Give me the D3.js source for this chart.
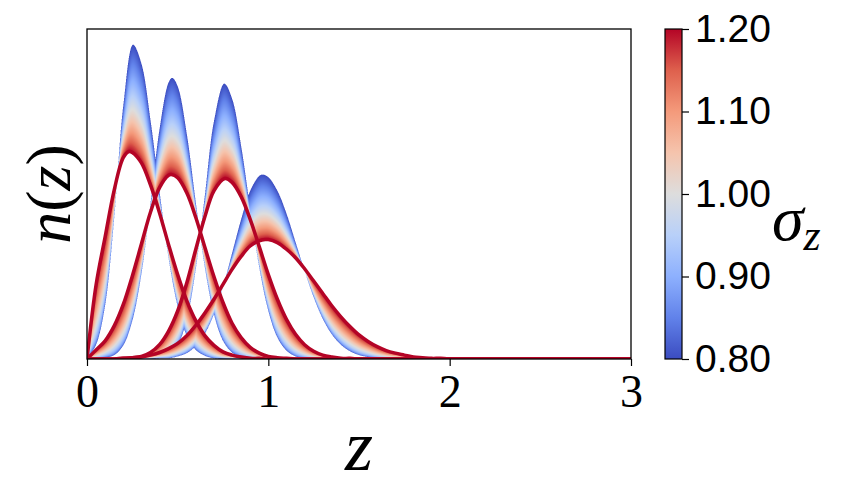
<!DOCTYPE html>
<html>
<head>
<meta charset="utf-8">
<script src="https://cdn.jsdelivr.net/npm/d3@7"></script>
<style>
  body { margin: 0; background: #fff; }
  svg { display: block; }
</style>
</head>
<body>
<div id="chart"></div>
<script>
// Redshift samples shared by every curve.
const zGrid = [
  0.00, 0.05, 0.10, 0.15, 0.20, 0.25, 0.30, 0.35, 0.40, 0.45, 0.50, 0.55, 0.60, 0.65,
  0.70, 0.75, 0.80, 0.85, 0.90, 0.95, 1.00, 1.05, 1.10, 1.15, 1.20, 1.25, 1.30, 1.35,
  1.40, 1.45, 1.50, 1.55, 1.60, 1.65, 1.70, 1.75, 1.80, 1.85, 1.90, 1.95, 2.00,
  3.00
];

// n(z) of the four bins at sigma_z = 0.8.
const nzLow = [
  [0, 0.22, 0.83, 2.17, 3.90, 4.83, 4.55, 3.68, 2.58, 1.55, 0.81, 0.36, 0.14, 0.05,
   0.01, 0, 0, 0, 0, 0, 0, 0, 0, 0, 0, 0, 0, 0,
   0, 0, 0, 0, 0, 0, 0, 0, 0, 0, 0, 0, 0, 0],
  [0, 0, 0.02, 0.06, 0.21, 0.59, 1.31, 2.39, 3.54, 4.26, 4.20, 3.47, 2.41, 1.41,
   0.69, 0.28, 0.10, 0.03, 0.01, 0, 0, 0, 0, 0, 0, 0, 0, 0,
   0, 0, 0, 0, 0, 0, 0, 0, 0, 0, 0, 0, 0, 0],
  [0, 0, 0, 0, 0, 0, 0, 0, 0.01, 0.06, 0.21, 0.61, 1.39, 2.52,
   3.66, 4.23, 4.01, 3.28, 2.32, 1.41, 0.74, 0.33, 0.13, 0.04, 0.01, 0, 0, 0,
   0, 0, 0, 0, 0, 0, 0, 0, 0, 0, 0, 0, 0, 0],
  [0, 0, 0, 0, 0, 0, 0, 0, 0.01, 0.01, 0.04, 0.09, 0.20, 0.39,
   0.69, 1.11, 1.63, 2.15, 2.59, 2.82, 2.80, 2.59, 2.24, 1.80, 1.36, 0.95, 0.62, 0.38,
   0.22, 0.12, 0.06, 0.03, 0.01, 0, 0, 0, 0, 0, 0, 0, 0, 0]
];

// n(z) of the four bins at sigma_z = 1.2 (the dark red curves).
const nzHigh = [
  [0, 1.14, 1.88, 2.60, 3.10, 3.18, 3.02, 2.68, 2.25, 1.76, 1.30, 0.90, 0.59, 0.36,
   0.21, 0.11, 0.06, 0.03, 0.01, 0.01, 0, 0, 0, 0, 0, 0, 0, 0,
   0, 0, 0, 0, 0, 0, 0, 0, 0, 0, 0, 0, 0, 0],
  [0, 0.14, 0.28, 0.51, 0.84, 1.28, 1.77, 2.26, 2.64, 2.83, 2.79, 2.56, 2.18, 1.72,
   1.27, 0.87, 0.55, 0.33, 0.18, 0.09, 0.04, 0.02, 0.01, 0, 0, 0, 0, 0,
   0, 0, 0, 0, 0, 0, 0, 0, 0, 0, 0, 0, 0, 0],
  [0, 0, 0, 0, 0.01, 0.02, 0.04, 0.10, 0.22, 0.43, 0.74, 1.17, 1.69, 2.19,
   2.59, 2.77, 2.72, 2.50, 2.15, 1.73, 1.30, 0.92, 0.61, 0.38, 0.22, 0.12, 0.06, 0.03,
   0.01, 0.01, 0, 0, 0, 0, 0, 0, 0, 0, 0, 0, 0, 0],
  [0, 0, 0, 0, 0.01, 0.02, 0.03, 0.06, 0.10, 0.16, 0.24, 0.36, 0.52, 0.71,
   0.92, 1.15, 1.38, 1.58, 1.74, 1.82, 1.84, 1.79, 1.69, 1.56, 1.39, 1.20, 1.01, 0.82,
   0.65, 0.50, 0.37, 0.27, 0.19, 0.13, 0.09, 0.06, 0.03, 0.02, 0.01, 0.01, 0, 0]
];

// Peak of each curve (position and height).
const peakZLow = [0.254, 0.470, 0.757, 0.969];
const peakNLow = [4.84, 4.33, 4.24, 2.84];
const peakZHigh = [0.232, 0.465, 0.760, 0.982];
const peakNHigh = [3.195, 2.84, 2.78, 1.84];

const sigmaRange = [0.8, 1.2];
const sigmaTicks = [0.8, 0.9, 1.0, 1.1, 1.2];
const zTicks = [0, 1, 2, 3];

// Layout.
const width = 842, height = 502;
const plot = { left: 87, top: 29, right: 631, bottom: 359 };
const pw = plot.right - plot.left, ph = plot.bottom - plot.top;

// Grid samples plus the peak, dropping grid samples that sit right on the peak.
function curvePoints(vals, pz, pn) {
  const pts = zGrid.map((z, i) => [z, vals[i]]).filter(d => Math.abs(d[0] - pz) > 0.012);
  pts.push([pz, pn]);
  return pts.sort((a, b) => a[0] - b[0]);
}
const lowCurves = nzLow.map((c, i) => curvePoints(c, peakZLow[i], peakNLow[i]));
const highCurves = nzHigh.map((c, i) => curvePoints(c, peakZHigh[i], peakNHigh[i]));

const x = d3.scaleLinear().domain([0, 3]).range([plot.left, plot.right]);
const ymax = 1.05 * d3.max(lowCurves.concat(highCurves), c => d3.max(c, d => d[1]));
const y = d3.scaleLinear().domain([0, ymax]).range([plot.bottom, plot.top]);

// matplotlib "coolwarm"
const cwStops = ["#3b4cc0", "#6182ea", "#8db0fe", "#b8d0f9", "#dddddd", "#f5c4ad", "#f49a7b", "#de604d", "#b40426"];
const coolwarm = d3.piecewise(d3.interpolateRgb, cwStops);
const sig = d3.scaleLinear().domain(sigmaRange).range([0, 1]).clamp(true);

const svg = d3.select("#chart").append("svg")
  .attr("width", width).attr("height", height);

const line = d3.line().x(d => x(d[0])).y(d => y(d[1])).curve(d3.curveCatmullRom);

// Sample a drawn curve so it can be looked up by pixel column.
function sampler(pts) {
  const p = svg.append("path").attr("d", line(pts)).attr("fill", "none");
  const node = p.node(), L = node.getTotalLength();
  const xs = [], ys = [];
  for (let l = 0; l <= L; l += 0.5) {
    const q = node.getPointAtLength(l);
    xs.push(q.x); ys.push(Math.min(q.y, plot.bottom));
  }
  p.remove();
  return px => {
    let lo = 0, hi = xs.length - 1;
    if (px <= xs[0]) return ys[0];
    if (px >= xs[hi]) return ys[hi];
    while (hi - lo > 1) {
      const mid = (lo + hi) >> 1;
      if (xs[mid] <= px) lo = mid; else hi = mid;
    }
    const t = (px - xs[lo]) / ((xs[hi] - xs[lo]) || 1);
    return ys[lo] + t * (ys[hi] - ys[lo]);
  };
}

const lowF = lowCurves.map(sampler);
const highF = highCurves.map(sampler);

// Shade each bin's band between its sigma=0.8 and sigma=1.2 curves (3x3 supersampled).
const SS = 3;
const lut = d3.range(256).map(i => d3.rgb(coolwarm(i / 255)));
const acc = new Float32Array(pw * ph * 3);
const yb = new Float32Array(4), yr = new Float32Array(4);
for (let sx = 0; sx < pw * SS; sx++) {
  const px = plot.left + (sx + 0.5) / SS;
  for (let k = 0; k < 4; k++) { yb[k] = lowF[k](px); yr[k] = highF[k](px); }
  const col = Math.floor(sx / SS);
  for (let sy = 0; sy < ph * SS; sy++) {
    const py = plot.top + (sy + 0.5) / SS;
    let best = -1;
    for (let k = 0; k < 4; k++) {
      const a = yb[k], b = yr[k];
      const lo = Math.min(a, b), hi = Math.max(a, b);
      if (py < lo || py > hi) continue;
      const t = hi - lo < 1e-6 ? 1 : (py - a) / (b - a);
      // peak height goes as 1/sigma; on the tails the wider curves rise faster
      const s = a < b ? 0.8 / (1 - t / 3) : 0.8 + 0.4 * Math.pow(t, 0.6);
      if (s > best) best = s;
    }
    const idx = (Math.floor(sy / SS) * pw + col) * 3;
    if (best < 0) { acc[idx] += 255; acc[idx + 1] += 255; acc[idx + 2] += 255; }
    else {
      const c = lut[Math.round(sig(best) * 255)];
      acc[idx] += c.r; acc[idx + 1] += c.g; acc[idx + 2] += c.b;
    }
  }
}
const canvas = document.createElement("canvas");
canvas.width = pw; canvas.height = ph;
const ctx = canvas.getContext("2d");
const img = ctx.createImageData(pw, ph);
for (let i = 0; i < pw * ph; i++) {
  img.data[i * 4] = acc[i * 3] / (SS * SS);
  img.data[i * 4 + 1] = acc[i * 3 + 1] / (SS * SS);
  img.data[i * 4 + 2] = acc[i * 3 + 2] / (SS * SS);
  img.data[i * 4 + 3] = 255;
}
ctx.putImageData(img, 0, 0);

svg.append("image")
  .attr("x", plot.left).attr("y", plot.top)
  .attr("width", pw).attr("height", ph)
  .attr("href", canvas.toDataURL());

svg.append("clipPath").attr("id", "clip")
  .append("rect").attr("x", plot.left).attr("y", plot.top - 5).attr("width", pw).attr("height", ph + 5);

// sigma = 1.2 curves drawn last, on top
svg.append("g").attr("clip-path", "url(#clip)")
  .selectAll("path").data(highCurves).join("path")
  .attr("d", line)
  .attr("fill", "none")
  .attr("stroke", "#b40426")
  .attr("stroke-width", 3.5);

// Frame.
svg.append("rect")
  .attr("x", plot.left).attr("y", plot.top)
  .attr("width", pw).attr("height", ph)
  .attr("fill", "none").attr("stroke", "#000").attr("stroke-width", 1.3);

// x axis
const xAxis = svg.append("g")
  .attr("transform", `translate(0,${plot.bottom})`)
  .call(d3.axisBottom(x).tickValues(zTicks).tickFormat(d3.format("d")).tickSize(7).tickPadding(8));
xAxis.select(".domain").remove();
xAxis.selectAll("line").attr("stroke-width", 1.2);
xAxis.selectAll("text")
  .attr("font-family", "'Liberation Serif', 'DejaVu Serif', serif")
  .attr("font-size", 46).attr("fill", "#000");

svg.append("text")
  .attr("x", x(1.5)).attr("y", 470)
  .attr("text-anchor", "middle")
  .attr("font-family", "'Liberation Serif', serif")
  .attr("font-style", "italic")
  .attr("font-size", 72)
  .text("z");

const yl = svg.append("text")
  .attr("transform", `translate(70,${(plot.top + plot.bottom) / 2}) rotate(-90)`)
  .attr("text-anchor", "middle")
  .attr("font-family", "'Liberation Serif', serif")
  .attr("font-size", 64);
yl.append("tspan").attr("font-style", "italic").text("n");
yl.append("tspan").text("(");
yl.append("tspan").attr("font-style", "italic").text("z");
yl.append("tspan").text(")");

// Colorbar.
const cb = { left: 665, width: 17 };
const cbY = d3.scaleLinear().domain(sigmaRange).range([plot.bottom, plot.top]);
const grad = svg.append("defs").append("linearGradient")
  .attr("id", "cw").attr("x1", 0).attr("y1", 1).attr("x2", 0).attr("y2", 0);
grad.selectAll("stop").data(cwStops).join("stop")
  .attr("offset", (d, i) => i / (cwStops.length - 1))
  .attr("stop-color", d => d);
svg.append("rect")
  .attr("x", cb.left).attr("y", plot.top)
  .attr("width", cb.width).attr("height", ph)
  .attr("fill", "url(#cw)").attr("stroke", "#000").attr("stroke-width", 1.2);
const cbAxis = svg.append("g")
  .attr("transform", `translate(${cb.left + cb.width},0)`)
  .call(d3.axisRight(cbY).tickValues(sigmaTicks).tickFormat(d3.format(".2f")).tickSize(7).tickPadding(6));
cbAxis.select(".domain").remove();
cbAxis.selectAll("line").attr("stroke-width", 1.2);
cbAxis.selectAll("text")
  .attr("font-family", "'Liberation Sans', Arial, sans-serif")
  .attr("font-size", 39).attr("fill", "#000");

const sl = svg.append("text")
  .attr("x", 772).attr("y", 240)
  .attr("font-family", "'Liberation Serif', serif")
  .attr("font-style", "italic")
  .attr("font-size", 64);
sl.append("tspan").text("σ");
sl.append("tspan").attr("font-size", 44).attr("dy", 10).text("z");
</script>
</body>
</html>
